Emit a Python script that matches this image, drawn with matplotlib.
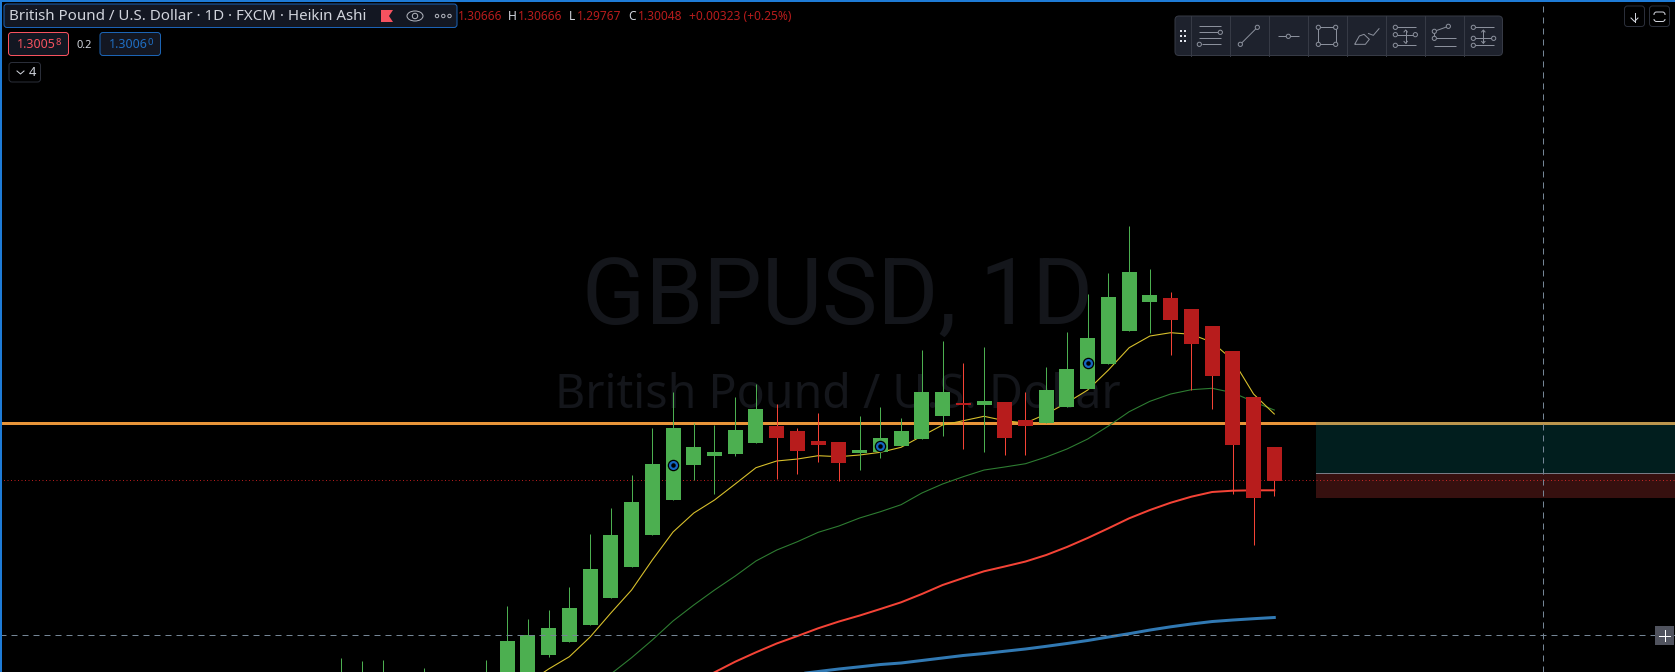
import numpy as np
import matplotlib
matplotlib.use('Agg')
import matplotlib.pyplot as plt
from matplotlib.patches import FancyBboxPatch, Polygon, Rectangle, Ellipse, Circle

plt.rcParams['font.family'] = ['Noto Sans', 'DejaVu Sans']

# heikin ashi bars (first ones are below the visible window)
opens = [1.2620, 1.2615, 1.2618, 1.2600, 1.2612, 1.2600, 1.2605, 1.2625,
         1.26298, 1.26400, 1.26849, 1.27087, 1.27399, 1.27895, 1.28464, 1.29051,
         1.29693, 1.30335, 1.30500, 1.30537, 1.30739, 1.31051, 1.30959, 1.30776,
         1.30757, 1.30555, 1.30574, 1.30684, 1.30812, 1.31234, 1.31473, 1.31436,
         1.31491, 1.31161, 1.31106, 1.31400, 1.31730, 1.32189, 1.32794, 1.33326,
         1.33400, 1.33198, 1.32886, 1.32427, 1.31583, 1.30666]
highs = [1.26794, 1.26739, 1.26757, 1.2648, 1.26610, 1.2645, 1.2650, 1.26757,
         1.27748, 1.27509, 1.27674, 1.28097, 1.29069, 1.29546, 1.30152, 1.31014,
         1.31675, 1.31106, 1.31069, 1.31583, 1.31822, 1.31455, 1.31014, 1.31289,
         1.30757, 1.31234, 1.31400, 1.31198, 1.32445, 1.32611, 1.32207, 1.32501,
         1.31491, 1.31675, 1.32134, 1.32776, 1.33473, 1.33858, 1.34721, 1.33932,
         1.33510, 1.33198, 1.32886, 1.32427, 1.31583, 1.30666]
lows = [1.2610, 1.2605, 1.2610, 1.2590, 1.2600, 1.2590, 1.2600, 1.2620,
        1.26298, 1.26400, 1.26812, 1.27087, 1.27399, 1.27895, 1.28464, 1.29051,
        1.29693, 1.30060, 1.29803, 1.30500, 1.30739, 1.30078, 1.30170, 1.30390,
        1.30042, 1.30243, 1.30464, 1.30684, 1.30812, 1.30867, 1.30629, 1.30574,
        1.30519, 1.30519, 1.31106, 1.31400, 1.31730, 1.32189, 1.32794, 1.32757,
        1.32354, 1.31711, 1.31363, 1.29803, 1.28867, 1.29767]
closes = [1.2630, 1.2625, 1.2628, 1.2615, 1.2622, 1.2612, 1.2620, 1.2640,
          1.27106, 1.27216, 1.27344, 1.27711, 1.28427, 1.29051, 1.29656, 1.30354,
          1.31014, 1.30666, 1.30574, 1.30977, 1.31363, 1.30831, 1.30592, 1.30702,
          1.30372, 1.30610, 1.30831, 1.30959, 1.31675, 1.31675, 1.31436, 1.31510,
          1.30831, 1.31051, 1.31711, 1.32097, 1.32666, 1.33418, 1.33877, 1.33455,
          1.32996, 1.32556, 1.31968, 1.30702, 1.29730, 1.30048]

# moving averages, each one ends on the last bar
ma_yellow = [1.26335, 1.26592, 1.26818, 1.27179, 1.27619, 1.28041, 1.28592, 1.29106,
             1.29454, 1.29693, 1.29987, 1.30286, 1.30409, 1.30445, 1.30506, 1.30488,
             1.30519, 1.30568, 1.30660, 1.30867, 1.31069, 1.31148, 1.31229, 1.31148,
             1.31106, 1.31271, 1.31478, 1.31711, 1.32078, 1.32488, 1.32702, 1.32763,
             1.32734, 1.32587, 1.32262, 1.31638, 1.31271]
ma_green = [1.26206, 1.26500, 1.26799, 1.27124, 1.27473, 1.27766, 1.28041, 1.28298,
            1.28574, 1.28775, 1.28928, 1.29100, 1.29216, 1.29363, 1.29478, 1.29607,
            1.29821, 1.29987, 1.30121, 1.30243, 1.30299, 1.30359, 1.30482, 1.30629,
            1.30812, 1.31051, 1.31313, 1.31504, 1.31638, 1.31717, 1.31743, 1.31662,
            1.31497, 1.31344]
ma_red = [1.26335, 1.26531, 1.26726, 1.26898, 1.27060, 1.27197, 1.27339, 1.27463,
          1.27573, 1.27693, 1.27816, 1.27968, 1.28133, 1.28262, 1.28385, 1.28473,
          1.28564, 1.28684, 1.28831, 1.28996, 1.29174, 1.29357, 1.29509, 1.29643,
          1.29754, 1.29840, 1.29864, 1.29871, 1.29871]
ma_blue = [1.26500, 1.26546, 1.26592, 1.26632, 1.26674, 1.26702, 1.26748, 1.26794,
           1.26840, 1.26876, 1.26918, 1.26959, 1.27008, 1.27060, 1.27115, 1.27179,
           1.27240, 1.27307, 1.27366, 1.27418, 1.27463, 1.27491, 1.27515, 1.27537]

# blue circles sitting on three bars
signal_bars = [16, 26, 36]
signal_prices = [1.30341, 1.30689, 1.32201]

level_orange = 1.31100
level_dotted = 1.30060
level_cross = 1.27210
box_top = 1.31130
box_mid = 1.30183
box_bottom = 1.29735

PX = 0.72  # 1 pixel in points at dpi 100
UP = '#4caf50'
DOWN = '#b71c1c'
DOWN_WICK = '#f44336'
CROSS = '#758696'
ICON = '#8b909c'

opens, highs, lows, closes = map(np.array, (opens, highs, lows, closes))
idx = np.arange(len(opens))

fig = plt.figure(figsize=(16.75, 6.72), dpi=100, facecolor='black')
ax = fig.add_axes([0, 0, 1, 1], facecolor='black')
ax.set_xlim(-341.3 / 20.733, (1675 - 341.3) / 20.733)
ax.set_ylim(1.26537, 1.38868)
ax.axis('off')

# overlay in screen pixels for the terminal chrome
ui = fig.add_axes([0, 0, 1, 1], zorder=5)
ui.set_xlim(0, 1675)
ui.set_ylim(672, 0)
ui.axis('off')
ui.patch.set_alpha(0)

# watermark
ax.text(582, 325, 'GBPUSD, 1D', transform=ui.transData, color='#14161b', fontsize=67,
        family='Roboto', ha='left', va='baseline', zorder=0)
ax.text(555, 408, 'British Pound / U.S. Dollar', transform=ui.transData, color='#14161b',
        fontsize=33.5, ha='left', va='baseline', zorder=0)

ax.axhline(level_orange, color='#e8953a', lw=3 * PX, zorder=1)
ax.axhline(level_dotted, color=DOWN, lw=1 * PX, ls=(0, (1, 2.5)), zorder=1)

# position box
ax.axhspan(box_mid, box_top, xmin=(47 + 341.3 / 20.733) / (1675 / 20.733), color='#0a9a9a',
           alpha=0.2, lw=0, zorder=2)
ax.axhspan(box_bottom, box_mid, xmin=(47 + 341.3 / 20.733) / (1675 / 20.733), color='#f94a45',
           alpha=0.22, lw=0, zorder=2)
ax.plot([47, 65], [box_mid, box_mid], color='#787b86', lw=1 * PX, zorder=2.1)

# moving averages go under the candles
ax.plot(np.arange(46 - len(ma_blue), 46), ma_blue, color='#3179b3', lw=3 * PX, zorder=3)
ax.plot(np.arange(46 - len(ma_red), 46), ma_red, color='#f44336', lw=2 * PX, zorder=3)
ax.plot(np.arange(46 - len(ma_green), 46), ma_green, color='#2e7d32', lw=1.1 * PX, zorder=3)
ax.plot(np.arange(46 - len(ma_yellow), 46), ma_yellow, color='#d8c02c', lw=1.1 * PX, zorder=3)

# candles
up = closes >= opens
ax.vlines(idx[up], lows[up], highs[up], color=UP, lw=1 * PX, zorder=4)
ax.vlines(idx[~up], lows[~up], highs[~up], color=DOWN_WICK, lw=1 * PX, zorder=4)
ax.bar(idx[up], (closes - opens)[up], bottom=opens[up], width=0.7235, color=UP, lw=0, zorder=5)
ax.bar(idx[~up], (closes - opens)[~up], bottom=opens[~up], width=0.7235, color=DOWN, lw=0, zorder=5)

ax.plot(signal_bars, signal_prices, 'o', color='black', ms=11.5 * PX, mew=0, zorder=6)
ax.plot(signal_bars, signal_prices, 'o', color='#1565c0', ms=9 * PX, mew=0, zorder=6.1)
ax.plot(signal_bars, signal_prices, 'o', color='black', ms=4.5 * PX, mew=0, zorder=6.2)

# crosshair
ax.axhline(level_cross, color=CROSS, lw=1 * PX, ls=(0, (6, 5)), zorder=7)
ax.plot([(1543.3 - 341.3) / 20.733] * 2, [1.26537, 1.38868], color=CROSS, lw=1 * PX,
        ls=(0, (6, 5)), zorder=7)


def rbox(x0, y0, x1, y1, fc, ec, r=3):
    ui.add_patch(FancyBboxPatch((x0, y0), x1 - x0, y1 - y0, boxstyle='round,pad=0,rounding_size=%g' % r,
                                fc=fc, ec=ec, lw=1 * PX))


def label(x, y, s, color='#d1d4dc', size=12, **kw):
    ui.text(x, y, s, color=color, fontsize=size * PX, ha=kw.pop('ha', 'left'), va='center', **kw)


# window border
ui.add_patch(Rectangle((0, 0), 1675, 2, fc='#1e7bd6', lw=0))
ui.add_patch(Rectangle((0, 0), 2, 672, fc='#1e7bd6', lw=0))

# legend
rbox(4, 4, 457, 27.5, '#131722', '#1b62b5')
label(9, 16, 'British Pound / U.S. Dollar \u00b7 1D \u00b7 FXCM \u00b7 Heikin Ashi', size=15.1)
ui.add_patch(Polygon([(381, 10), (393, 10), (389, 16), (393, 22), (381, 22)], fc='#f7525f', lw=0))
ui.add_patch(Ellipse((415, 16), 16, 10, fc='none', ec='#b2b5be', lw=1 * PX))
ui.add_patch(Circle((415, 16), 2.7, fc='none', ec='#b2b5be', lw=1 * PX))
for dx in (437, 443.3, 449.5):
    ui.add_patch(Circle((dx, 16), 1.7, fc='none', ec='#b2b5be', lw=1 * PX))

label(458, 17, '1.30666', DOWN)
label(507.6, 17, 'H')
label(518, 17, '1.30666', DOWN)
label(569, 17, 'L')
label(576.5, 17, '1.29767', DOWN)
label(628.6, 17, 'C')
label(638, 17, '1.30048', DOWN)
label(689, 17, '+0.00323 (+0.25%)', DOWN)

rbox(8.5, 32.5, 68.5, 55.5, '#131722', '#f7525f')
label(17, 45, '1.3005', '#f7525f', 12.5)
label(55.5, 42.5, '8', '#f7525f', 9.5)
label(76.5, 45, '0.2', '#d1d4dc', 11, fontweight='bold')
rbox(100, 32.5, 160.5, 55.5, '#131722', '#1c64b4')
label(109, 45, '1.3006', '#1f6fc4', 12.5)
label(147.5, 42.5, '0', '#1f6fc4', 9.5)

rbox(9, 62.5, 40.5, 82, 'black', '#2a2e39')
ui.plot([17, 20.5, 24], [71, 74, 71], color='#d1d4dc', lw=1 * PX)
label(29, 72.5, '4', size=13)

# drawing toolbar, coordinates taken from a 3x crop starting at x=1160


def zx(x):
    return 1160 + x / 3


def zy(y):
    return y / 3


def seg(*pts):
    ui.plot([zx(p[0]) for p in pts], [zy(p[1]) for p in pts], color=ICON, lw=1 * PX, solid_capstyle='butt')


def dot(x, y):
    ui.add_patch(Circle((zx(x), zy(y)), 2.1, fc='#1e222d', ec=ICON, lw=1 * PX, zorder=3))


def arrow(x, y0, y1):
    seg((x, y0), (x, y1))
    seg((x - 6, y0 + 7), (x, y0), (x + 6, y0 + 7))
    seg((x - 6, y1 - 7), (x, y1), (x + 6, y1 - 7))


rbox(1175, 16, 1502.5, 55.5, '#1e222d', '#363a45', 4)
for sx in (92, 209, 326, 443, 560, 677, 794, 911):
    ui.plot([zx(sx), zx(sx)], [16, 55.5], color='#363a45', lw=1 * PX)
for gx in (1180.7, 1185):
    for gy in (30.7, 35.7, 41):
        ui.add_patch(Rectangle((gx - 1, gy - 1), 2, 2, fc='#e0e3eb', lw=0))

seg((117, 78), (183, 78))
seg((117, 97), (175, 97))
seg((117, 115), (183, 115))
seg((125, 133), (183, 133))
dot(181, 97)
dot(118, 133)

seg((241, 133), (292, 82))
dot(241, 133)
dot(292, 82)

seg((355, 109), (417, 109))
dot(385, 109)

seg((475, 82), (527, 82), (527, 133), (475, 133), (475, 82))
for cx, cy in ((475, 82), (527, 82), (527, 133), (475, 133)):
    dot(cx, cy)

seg((584, 133), (598, 108), (612, 103), (628, 118), (616, 133), (584, 133))
seg((624, 100), (640, 106), (658, 85))

seg((712, 82), (768, 82))
seg((712, 104), (760, 104))
seg((712, 136), (768, 136))
arrow(737, 90, 130)
for cx, cy in ((706, 82), (706, 104), (766, 104), (706, 136)):
    dot(cx, cy)

seg((823, 94), (865, 79))
seg((823, 94), (823, 115))
seg((829, 115), (888, 115))
seg((823, 138), (888, 138))
for cx, cy in ((865, 79), (823, 94), (823, 115)):
    dot(cx, cy)

seg((946, 82), (1002, 82))
seg((946, 115), (995, 115))
seg((946, 136), (1002, 136))
arrow(970, 90, 130)
for cx, cy in ((940, 82), (940, 115), (1001, 115), (940, 136)):
    dot(cx, cy)

# top right buttons
rbox(1624.5, 6, 1644.5, 26.5, 'black', '#2a2e39')
rbox(1649.5, 6, 1669.5, 26.5, 'black', '#2a2e39')
ui.plot([1634.5, 1634.5], [13, 21.5], color='#d1d4dc', lw=1 * PX)
ui.plot([1631, 1634.5, 1638], [18, 21.5, 18], color='#d1d4dc', lw=1 * PX)
ui.add_patch(FancyBboxPatch((1654, 12), 11, 9.5, boxstyle='round,pad=0,rounding_size=2.5',
                            fc='none', ec='#d1d4dc', lw=1 * PX))
ui.add_patch(Rectangle((1653, 14.5), 13, 4.5, fc='black', lw=0, zorder=3))

# plus button at the crosshair
ui.add_patch(Rectangle((1655, 626), 19, 19, fc='#50535e', lw=0))
ui.plot([1659, 1670], [635.7, 635.7], color='white', lw=1 * PX)
ui.plot([1664.5, 1664.5], [630, 641], color='white', lw=1 * PX)

fig.savefig('out.png', dpi=100, facecolor='black')
